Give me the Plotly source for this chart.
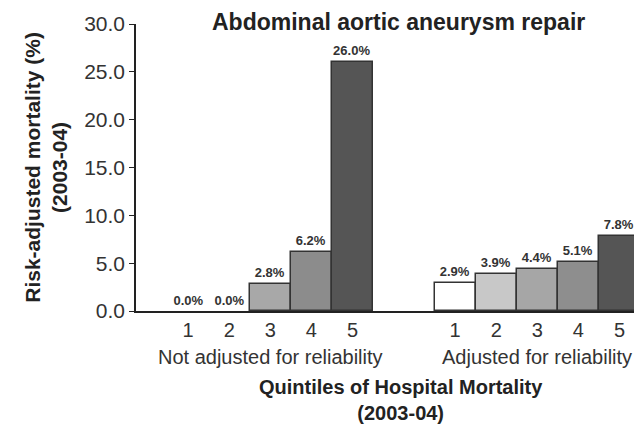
import plotly.graph_objects as go

# ----------------------------------
# Data
# ----------------------------------

quintiles = ["1", "2", "3", "4", "5"]
not_adjusted = [0.0, 0.0, 2.8, 6.2, 26.0]
adjusted = [2.9, 3.9, 4.4, 5.1, 7.8]
group_labels = ["Not adjusted for reliability", "Adjusted for reliability"]
y_ticks = [0, 5, 10, 15, 20, 25, 30]

fills_not_adj = ["#ffffff", "#ffffff", "#a8a8a8", "#8c8c8c", "#555555"]
fills_adj = ["#ffffff", "#c8c8c8", "#a6a6a6", "#8e8e8e", "#555555"]

GAP = 6.5  # offset of second group
FONT = "Liberation Sans, Arial, sans-serif"

x1 = [i for i in range(len(quintiles))]
x2 = [i + GAP for i in range(len(quintiles))]

fig = go.Figure()

for xs, ys, fills in [(x1, not_adjusted, fills_not_adj), (x2, adjusted, fills_adj)]:
    fig.add_trace(go.Bar(
        x=xs,
        y=ys,
        width=1.0,
        marker=dict(
            color=fills,
            # no outline on empty bars, so the baseline stays thin
            line=dict(color="#333333", width=[1.5 if v > 0 else 0 for v in ys]),
        ),
        text=[f"{v:.1f}%" for v in ys],
        textposition="outside",
        textfont=dict(family=FONT, size=13, color="#333333", weight="bold"),
        cliponaxis=False,
        showlegend=False,
    ))

# group labels under tick numbers
for xs, label in [(x1, group_labels[0]), (x2, group_labels[1])]:
    fig.add_annotation(
        x=xs[2], y=-0.160, xref="x", yref="paper",
        xanchor="center", yanchor="middle",
        text=label, showarrow=False,
        font=dict(family=FONT, size=20, color="#333333"),
    )

# x axis title
fig.add_annotation(
    x=0.525, y=-0.31, xref="paper", yref="paper",
    xanchor="center", yanchor="middle",
    text="<b>Quintiles of Hospital Mortality<br>(2003-04)</b>",
    showarrow=False,
    font=dict(family=FONT, size=20, color="#222222"),
)

# y axis title
fig.add_annotation(
    x=-0.18, y=0.5, xref="paper", yref="paper",
    xanchor="center", yanchor="middle",
    text="<b>Risk-adjusted mortality (%)<br>(2003-04)</b>",
    textangle=-90,
    showarrow=False,
    font=dict(family=FONT, size=21, color="#222222"),
)

# chart title
fig.add_annotation(
    x=0.52, y=1.007, xref="paper", yref="paper",
    xanchor="center", yanchor="middle",
    text="<b>Abdominal aortic aneurysm repair</b>",
    showarrow=False,
    font=dict(family=FONT, size=23, color="#222222"),
)

# page body has an 8px margin, so the figure is drawn 8px in from the corner
fig.update_layout(
    width=634,
    height=420,
    margin=dict(l=128, r=2, t=16, b=117),
    paper_bgcolor="white",
    plot_bgcolor="white",
    bargap=0,
    xaxis=dict(
        range=[-1.27, 11.0],
        tickvals=x1 + x2,
        ticktext=quintiles + quintiles,
        showline=True, linecolor="#222222", linewidth=1.5,
        ticks="", showgrid=False, zeroline=False,
        automargin=False,
        tickfont=dict(family=FONT, size=20, color="#333333"),
    ),
    yaxis=dict(
        range=[0, 30],
        tickvals=y_ticks,
        tickformat=".1f",
        showline=True, linecolor="#222222", linewidth=1.5,
        ticks="outside", ticklen=5, tickcolor="#222222",
        showgrid=False, zeroline=False,
        automargin=False,
        tickfont=dict(family=FONT, size=21, color="#333333"),
    ),
)

fig.write_html("out.html")
